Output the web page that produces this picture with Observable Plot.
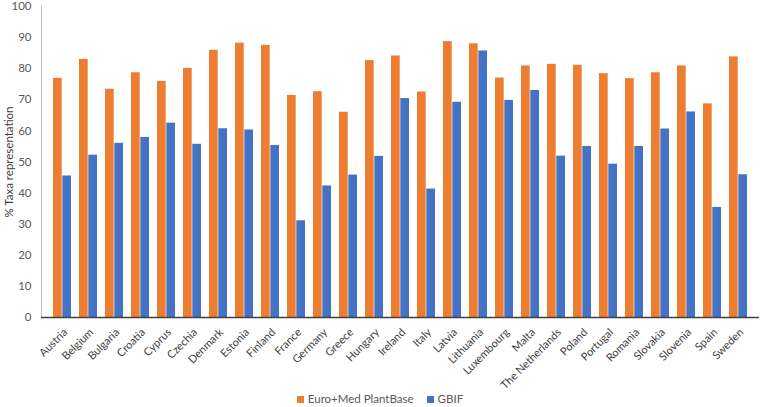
<!DOCTYPE html>
<html>
<head>
<meta charset="utf-8">
<script src="https://cdn.jsdelivr.net/npm/d3@7"></script>
<script src="https://cdn.jsdelivr.net/npm/@observablehq/plot@0.6"></script>
<style>
  body { margin: 0; background: #fff; font-family: Lato, "Open Sans", sans-serif; }
  #chart svg { overflow: visible; }
  #legend { height: 14px; line-height: 14px; display: flex; justify-content: center; align-items: center; gap: 13px;
            font-family: Lato, "Open Sans", sans-serif; font-size: 11.5px; color: #595959; }
  #legend .item { display: flex; align-items: center; gap: 4px; }
  #legend .sw { width: 7px; height: 7px; display: inline-block; }
</style>
</head>
<body>
<div id="chart"></div>
<div id="legend"></div>
<script>
const countries = ["Austria","Belgium","Bulgaria","Croatia","Cyprus","Czechia","Denmark","Estonia","Finland","France","Germany","Greece","Hungary","Ireland","Italy","Latvia","Lithuania","Luxembourg","Malta","The Netherlands","Poland","Portugal","Romania","Slovakia","Slovenia","Spain","Sweden"];
const euroMed = [76.9,83.0,73.4,78.7,75.9,80.1,85.9,88.2,87.5,71.4,72.6,66.0,82.6,84.1,72.5,88.7,88.0,77.0,80.9,81.4,81.1,78.4,76.8,78.7,80.9,68.7,83.8];
const gbif = [45.5,52.2,56.0,57.9,62.5,55.7,60.7,60.3,55.3,31.1,42.3,45.8,51.8,70.4,41.3,69.2,85.7,69.8,73.0,51.9,55.0,49.3,55.0,60.6,66.1,35.4,45.9];
const seriesNames = ["Euro+Med PlantBase", "GBIF"];
const seriesColors = ["#ED7D31", "#4472C4"];
const yTicks = [0,10,20,30,40,50,60,70,80,90,100];

const W = 760, H = 392, mL = 41, mR = 1, mT = 6, mB = 75;
const pInner = 0.3, pOuter = 0.15;
const band = d3.scaleBand(countries, [mL, W - mR]).paddingInner(pInner).paddingOuter(pOuter);
const half = band.bandwidth() / 2;

const rowsA = countries.map((c, i) => ({country: c, series: seriesNames[0], value: euroMed[i]}));
const rowsB = countries.map((c, i) => ({country: c, series: seriesNames[1], value: gbif[i]}));

const chart = Plot.plot({
  width: W, height: H,
  marginLeft: mL, marginRight: mR, marginTop: mT, marginBottom: mB,
  style: { fontFamily: "Lato, 'Open Sans', sans-serif", fontSize: "11px", color: "#595959", background: "#fff", overflow: "visible" },
  x: { type: "band", domain: countries, paddingInner: pInner, paddingOuter: pOuter, label: null },
  y: { domain: [0, 100], ticks: yTicks, label: null },
  color: { domain: seriesNames, range: seriesColors },
  marks: [
    Plot.frame({ anchor: "left", stroke: "#bfbfbf" }),
    Plot.barY(rowsA, { x: "country", y: "value", fill: "series", insetRight: half }),
    Plot.barY(rowsB, { x: "country", y: "value", fill: "series", insetLeft: half }),
    Plot.ruleY([0], { stroke: "#404040", strokeWidth: 1.3 }),
    Plot.axisY({ ticks: yTicks, tickSize: 0, tickPadding: 10, fill: "#595959", fontSize: 11.5, label: null }),
    Plot.axisY({ ticks: [], tickSize: 0, label: "% Taxa representation", labelArrow: "none",
                 labelAnchor: "center", labelOffset: 37, fill: "#404040", fontSize: 11.5 }),
    Plot.axisX({ tickSize: 0, tickPadding: 6, tickRotate: -45, fill: "#404040", fontSize: 11, dx: 3, dy: 7, label: null })
  ]
});
document.getElementById("chart").append(chart);

const legend = document.getElementById("legend");
seriesNames.forEach((name, i) => {
  const item = document.createElement("span");
  item.className = "item";
  const sw = document.createElement("span");
  sw.className = "sw";
  sw.style.background = seriesColors[i];
  const t = document.createElement("span");
  t.textContent = name;
  item.append(sw, t);
  legend.append(item);
});
</script>
</body>
</html>
